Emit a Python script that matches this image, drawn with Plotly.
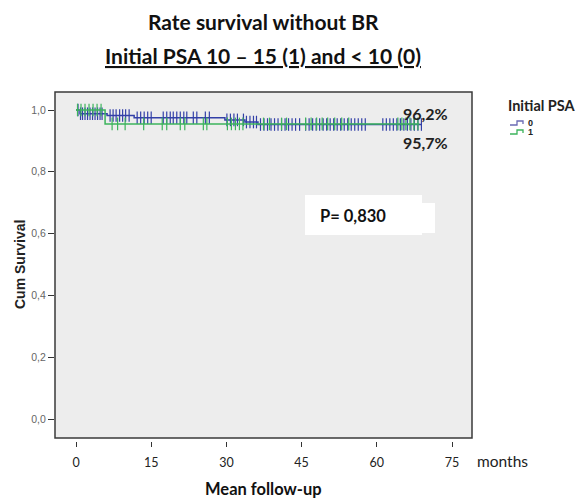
import numpy as np
import plotly.graph_objects as go

# ---------------- data ----------------
x_ticks = [0, 15, 30, 45, 60, 75]
y_ticks = [0.0, 0.2, 0.4, 0.6, 0.8, 1.0]

# group 0 (Initial PSA < 10): step times / survival
g0_time = [0, 0.8, 6.2, 11.6, 29.7, 33.7, 36.3, 69.0]
g0_surv = [1.0, 0.988, 0.982, 0.975, 0.968, 0.961, 0.953, 0.953]
g0_cens = [0.4, 0.9, 1.3, 1.8, 2.3, 2.8, 3.3, 3.8, 4.3, 4.8, 5.2,
           6.8, 7.4, 8.0, 8.7, 9.3, 9.9, 10.6,
           12.2, 12.9, 13.6, 14.3, 15.0,
           17.4, 18.1, 18.8, 19.4, 20.1, 20.8, 21.5, 22.1,
           23.4, 24.1, 25.8, 26.6,
           30.1, 30.8, 31.5, 32.2,
           33.4, 34.0, 34.7, 35.4, 36.0,
           36.8, 37.5, 38.2, 38.9, 39.6, 40.3, 41.0, 41.7, 42.4, 43.1, 43.8, 44.6,
           45.8, 46.5, 47.2, 47.9, 48.6, 49.3, 50.0, 50.7,
           51.4, 52.1, 52.8, 53.5, 54.2, 54.9, 55.6, 56.3, 57.0, 57.7,
           61.2, 61.9, 62.6, 63.3, 64.0, 64.7, 65.4, 66.1, 66.8, 67.5, 68.2, 68.9]

# group 1 (Initial PSA 10-15)
g1_time = [0, 5.8, 68.5]
g1_surv = [1.0, 0.955, 0.955]
g1_cens = [0.3, 1.0, 1.8, 2.6, 3.4, 4.2, 5.0,
           7.2, 8.3, 9.8, 13.5, 17.2, 18.1, 20.8, 21.7, 25.4, 26.1,
           30.2, 31.0, 31.8, 32.6, 33.3, 37.4, 38.6, 41.0, 42.0,
           45.8, 46.9, 48.0, 49.1, 50.2, 51.6, 53.0, 54.4,
           64.2, 65.0, 65.8, 66.6, 67.4, 68.2]

label_g0 = "96,2%"
label_g1 = "95,7%"
p_text = "P= 0,830"

# ---------------- layout geometry (screen pixels) ----------------
OFF = 8                      # page body margin
W, H = 587 - OFF, 500 - OFF  # figure size so it fits the window
SL, SR, ST, SB = 55, 472, 92, 441   # plot area in screen pixels
FRAME_BOTTOM = 438
L, R, T, B = SL - OFF, SR - OFF, ST - OFF, SB - OFF


def px(xs):
    return (xs - SL) / (SR - SL)


def py(ys):
    return (SB - ys) / (SB - ST)


def step_at(times, survs, t):
    idx = np.searchsorted(np.array(times), np.array(t), side="right") - 1
    return np.array(survs)[idx]


C0 = "#3340a8"
C1 = "#3cb45c"

fig = go.Figure()

for times, survs, cens, col, name in [
    (g0_time, g0_surv, g0_cens, C0, "0"),
    (g1_time, g1_surv, g1_cens, C1, "1"),
]:
    fig.add_trace(go.Scatter(x=times, y=survs, mode="lines", line=dict(color=col, width=1.5, shape="hv"),
                             showlegend=False, name=name))
    fig.add_trace(go.Scatter(x=cens, y=step_at(times, survs, cens), mode="markers",
                             marker=dict(symbol="line-ns-open", size=9, color=col,
                                         line=dict(color=col, width=1.2)),
                             showlegend=False, name=name))

# y: 1.0 at screen y=110, 0.0 at y=419
ppu = 309.0
y_lo = -(SB - 419) / ppu
y_hi = 1 + (110 - ST) / ppu
# x: 0 at screen x=76, 75.2 px per 15 months
ppm = 75.2 / 15
x_lo = -(76 - SL) / ppm
x_hi = (SR - 76) / ppm

shapes = [
    dict(type="rect", xref="paper", yref="paper", x0=0, x1=1, y0=py(FRAME_BOTTOM), y1=1,
         fillcolor="#ededed", line=dict(color="#3a3a3a", width=1.5), layer="below"),
    dict(type="rect", xref="paper", yref="paper", x0=px(305), x1=px(422), y0=py(235), y1=py(195),
         fillcolor="white", line=dict(width=0), layer="below"),
    dict(type="rect", xref="paper", yref="paper", x0=px(421), x1=px(435), y0=py(233), y1=py(203),
         fillcolor="white", line=dict(width=0), layer="below"),
]

for y0, col in [(125, "#6a6ab4"), (134, C1)]:
    pts = [(510, y0), (517, y0), (517, y0 - 4), (523, y0 - 4), (523, y0 - 1)]
    path = "M " + " L ".join(f"{px(a):.5f},{py(b):.5f}" for a, b in pts)
    shapes.append(dict(type="path", xref="paper", yref="paper", path=path,
                       line=dict(color=col, width=1.3)))

FONT = "Lato"


def ann(text, xs, ys, size, family=FONT, color="#111", xanchor="center", **kw):
    return dict(text=text, x=px(xs), y=py(ys), xref="paper", yref="paper", xanchor=xanchor,
                yanchor="middle", showarrow=False, font=dict(family=family, size=size, color=color), **kw)


annotations = [
    ann("<b>Rate survival without BR</b>", 263, 22, 21),
    ann("<b><u>Initial PSA 10 – 15 (1) and < 10 (0)</u></b>", 263, 55, 21),
    ann("<b>Cum Survival</b>", 20, 265, 14, family="Liberation Sans", color="#222", textangle=-90),
    ann("months", 475, 461, 15.5, color="#222", xanchor="left"),
    ann("<b>Mean follow-up</b>", 263, 489, 16.5),
    ann("<b>" + label_g0 + "</b>", 450, 113, 16, color="#222", xanchor="right"),
    ann("<b>" + label_g1 + "</b>", 450, 142, 16, color="#222", xanchor="right"),
    ann("<b>" + p_text + "</b>", 318, 216, 16.5, xanchor="left"),
    ann("<b>Initial PSA</b>", 506, 105, 14.5, color="#222", xanchor="left"),
    ann("<b>0</b>", 526, 123, 9, family="Liberation Sans", color="#222", xanchor="left"),
    ann("<b>1</b>", 526, 132, 9, family="Liberation Sans", color="#222", xanchor="left"),
]

fig.update_layout(
    width=W, height=H,
    margin=dict(l=L, r=W - R, t=T, b=H - B, pad=0),
    paper_bgcolor="white", plot_bgcolor="rgba(0,0,0,0)",
    separators=",.",
    shapes=shapes, annotations=annotations,
    xaxis=dict(range=[x_lo, x_hi], tickvals=x_ticks, ticks="outside", ticklen=5, tickwidth=1.2,
               tickcolor="#333", showgrid=False, zeroline=False, showline=False,
               ticklabelstandoff=5,
               tickfont=dict(family=FONT, size=12.5, color="#222")),
    yaxis=dict(range=[y_lo, y_hi], tickvals=y_ticks, tickformat=".1f", ticks="outside", ticklen=6,
               tickwidth=1.2, tickcolor="#333", showgrid=False, zeroline=False, showline=False,
               tickfont=dict(family="Liberation Sans", size=10.5, color="#666")),
)

fig.write_html("out.html")
